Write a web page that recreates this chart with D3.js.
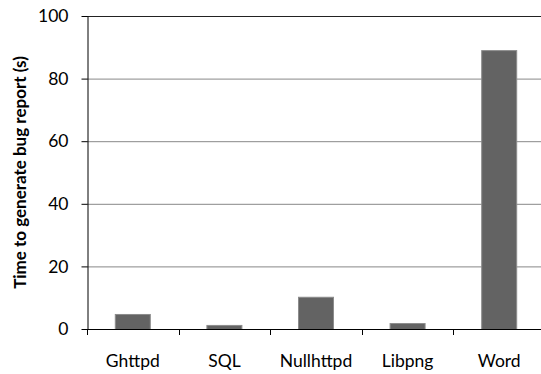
<!DOCTYPE html>
<html><head><meta charset="utf-8">
<script src="https://cdn.jsdelivr.net/npm/d3@7"></script>
<style>body{margin:0;background:#fff}svg{display:block}text{font-family:Lato,"Open Sans",sans-serif;fill:#000}</style>
</head><body>
<script>
const categories = ["Ghttpd","SQL","Nullhttpd","Libpng","Word"];
const values = [4.8, 1.3, 10.3, 1.9, 89.1];
const yTicks = [0,20,40,60,80,100];
const yTitle = "Time to generate bug report (s)";

(function(){
const W = 541, H = 374;
const mLeft = 87, mTop = 16, mBottom = 329, mRight = 545;
const svg = d3.select("body").append("svg").attr("width", W).attr("height", H);

const x = d3.scaleBand().domain(categories).range([mLeft, mRight]).paddingInner(0.607).paddingOuter(0.3035);
const y = d3.scaleLinear().domain([0,100]).range([mBottom, mTop]);

// gridlines
svg.append("g").selectAll("line").data(yTicks.filter(d => d > 0)).join("line")
  .attr("x1", mLeft).attr("x2", W).attr("y1", d => y(d) + 0.5).attr("y2", d => y(d) + 0.5)
  .attr("stroke", d => d === 100 ? "#222" : "#888").attr("stroke-width", 1);

// bars
svg.append("g").selectAll("rect").data(values).join("rect")
  .attr("x", (d,i) => x(categories[i]) + 0.5).attr("width", x.bandwidth() - 1)
  .attr("y", d => y(d) + 0.5).attr("height", d => mBottom - y(d))
  .attr("fill", "#636363").attr("stroke", "#8c8c8c").attr("stroke-width", 1);

// y axis
const ya = svg.append("g").attr("transform", `translate(${mLeft + 0.5},0)`)
  .call(d3.axisLeft(y).tickValues(yTicks).tickSize(6).tickPadding(13).tickSizeOuter(0));
ya.select(".domain").attr("stroke", "#000");
ya.selectAll(".tick line").attr("stroke", "#000");
ya.selectAll(".tick text").style("font-size", "17.5px").attr("fill", "#000");

// x axis
const xa = svg.append("g").attr("transform", `translate(0,${mBottom + 0.5})`)
  .call(d3.axisBottom(x).tickSize(0).tickPadding(25).tickSizeOuter(0));
xa.select(".domain").attr("stroke", "#000").attr("d", `M${mLeft},0H${W}`);
xa.selectAll(".tick text").style("font-size", "17.5px").attr("fill", "#000");
// category boundary ticks
const bounds = categories.map(c => x(c) - (x.step() - x.bandwidth()) / 2);
svg.append("g").selectAll("line").data(bounds).join("line")
  .attr("x1", d => Math.round(d) + 0.5).attr("x2", d => Math.round(d) + 0.5)
  .attr("y1", mBottom).attr("y2", mBottom + 6).attr("stroke", "#000");

// y title
svg.append("text").attr("transform", `translate(25.5,${(mTop + mBottom) / 2}) rotate(-90)`)
  .attr("text-anchor", "middle").style("font-size", "17px").style("font-weight", "bold")
  .text(yTitle);
})();
</script>
</body></html>
